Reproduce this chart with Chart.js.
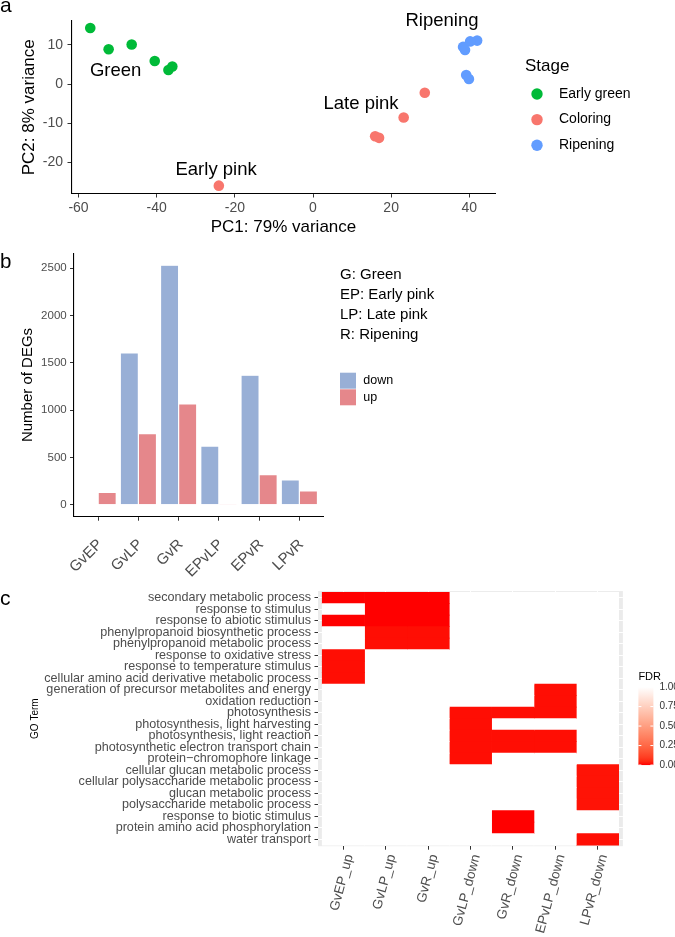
<!DOCTYPE html>
<html>
<head>
<meta charset="utf-8">
<script src="https://cdn.jsdelivr.net/npm/chart.js@4.4.1/dist/chart.umd.min.js"></script>
<style>
  body { margin: 0; background: #fff; width: 675px; height: 937px; position: relative; overflow: hidden; }
  canvas { position: absolute; left: 0; }
</style>
</head>
<body>
<canvas id="pca" width="675" height="240" style="top:0"></canvas>
<canvas id="degs" width="675" height="350" style="top:240px"></canvas>
<canvas id="goterm" width="675" height="357" style="top:580px"></canvas>
<script>
const FONT = '"Liberation Sans", Arial, Helvetica, sans-serif';
Chart.defaults.font.family = FONT;
Chart.defaults.animation = false;

// ---- panel a: PCA ----
const greenPC1 = [-57.0, -52.3, -46.4, -40.5, -37.0, -36.0];
const greenPC2 = [14.3, 8.9, 10.1, 5.9, 3.6, 4.5];
const coloringPC1 = [-24.1, 15.9, 16.9, 23.2, 28.6];
const coloringPC2 = [-25.9, -13.3, -13.7, -8.5, -2.2];
const ripeningPC1 = [42.0, 40.2, 38.4, 38.9, 39.2, 39.9];
const ripeningPC2 = [11.1, 10.9, 9.5, 8.7, 2.3, 1.3];
const pc1Ticks = [-60, -40, -20, 0, 20, 40];
const pc2Ticks = [-20, -10, 0, 10];
const groupLabels = ['Green', 'Ripening', 'Late pink', 'Early pink'];
const groupLabelPC1 = [-50.5, 33.0, 12.3, -24.8];
const groupLabelPC2 = [3.3, 16.1, -5.0, -21.8];

// ---- panel b: DEG counts ----
const comparisons = ['GvEP', 'GvLP', 'GvR', 'EPvLP', 'EPvR', 'LPvR'];
const downDEGs = [0, 1605, 2532, 620, 1369, 263];
const upDEGs = [132, 751, 1067, 12, 318, 147];
const degTicks = [0, 500, 1000, 1500, 2000, 2500];
const stageKey = ['G: Green', 'EP: Early pink', 'LP: Late pink', 'R: Ripening'];

// ---- panel c: GO enrichment ----
const goTerms = [
  'secondary metabolic process', 'response to stimulus', 'response to abiotic stimulus',
  'phenylpropanoid biosynthetic process', 'phenylpropanoid metabolic process',
  'response to oxidative stress', 'response to temperature stimulus',
  'cellular amino acid derivative metabolic process',
  'generation of precursor metabolites and energy', 'oxidation reduction', 'photosynthesis',
  'photosynthesis, light harvesting', 'photosynthesis, light reaction',
  'photosynthetic electron transport chain', 'protein\u2212chromophore linkage',
  'cellular glucan metabolic process', 'cellular polysaccharide metabolic process',
  'glucan metabolic process', 'polysaccharide metabolic process',
  'response to biotic stimulus', 'protein amino acid phosphorylation', 'water transport'
];
const goColumns = ['GvEP_up', 'GvLP_up', 'GvR_up', 'GvLP_down', 'GvR_down', 'EPvLP_down', 'LPvR_down'];
const fdrGvEPup    = [0.00, 1, 0.00, 1, 1, 0.01, 0.01, 0.01, 1, 1, 1, 1, 1, 1, 1, 1, 1, 1, 1, 1, 1, 1];
const fdrGvLPup    = [0.00, 0.00, 0.00, 0.01, 0.01, 1, 1, 1, 1, 1, 1, 1, 1, 1, 1, 1, 1, 1, 1, 1, 1, 1];
const fdrGvRup     = [0.00, 0.00, 0.00, 0.01, 0.01, 1, 1, 1, 1, 1, 1, 1, 1, 1, 1, 1, 1, 1, 1, 1, 1, 1];
const fdrGvLPdown  = [1, 1, 1, 1, 1, 1, 1, 1, 1, 1, 0.01, 0.01, 0.01, 0.01, 0.01, 1, 1, 1, 1, 1, 1, 1];
const fdrGvRdown   = [1, 1, 1, 1, 1, 1, 1, 1, 1, 1, 0.01, 1, 0.01, 0.01, 1, 1, 1, 1, 1, 0.00, 0.00, 1];
const fdrEPvLPdown = [1, 1, 1, 1, 1, 1, 1, 1, 0.01, 0.01, 0.01, 1, 0.01, 0.01, 1, 1, 1, 1, 1, 1, 1, 1];
const fdrLPvRdown  = [1, 1, 1, 1, 1, 1, 1, 1, 1, 1, 1, 1, 1, 1, 1, 0.015, 0.015, 0.015, 0.015, 1, 1, 0.01];
const fdrByColumn = [fdrGvEPup, fdrGvLPup, fdrGvRup, fdrGvLPdown, fdrGvRdown, fdrEPvLPdown, fdrLPvRdown];
const fdrBreaks = [0, 0.25, 0.5, 0.75, 1];

// red -> white, interpolated in Lab like ggplot
function labToRgb(L, a, b) {
  let y = (L + 16) / 116, x = a / 500 + y, z = y - b / 200;
  const f = t => (t ** 3 > 0.008856 ? t ** 3 : (t - 16 / 116) / 7.787);
  x = 0.95047 * f(x); y = f(y); z = 1.08883 * f(z);
  const r = x * 3.2406 - y * 1.5372 - z * 0.4986;
  const g = -x * 0.9689 + y * 1.8758 + z * 0.0415;
  const bl = x * 0.0557 - y * 0.2040 + z * 1.0570;
  const gam = c => Math.round(255 * Math.max(0, Math.min(1, c > 0.0031308 ? 1.055 * c ** (1 / 2.4) - 0.055 : 12.92 * c)));
  return `rgb(${gam(r)},${gam(g)},${gam(bl)})`;
}
function fdrColor(v) {
  return labToRgb(53.24 + (100 - 53.24) * v, 80.09 * (1 - v), 67.2 * (1 - v));
}

const tickGrey = '#4D4D4D';

// ---------- a ----------
const pcaLabels = {
  id: 'pcaLabels',
  afterDraw(chart) {
    const { ctx, scales: { x, y }, chartArea: area } = chart;
    ctx.save();
    ctx.fillStyle = '#000';
    ctx.textAlign = 'center';
    ctx.textBaseline = 'middle';
    ctx.font = '18.5px ' + FONT;
    groupLabels.forEach((t, i) => {
      ctx.fillText(t, x.getPixelForValue(groupLabelPC1[i]), y.getPixelForValue(groupLabelPC2[i]));
    });
    ctx.textAlign = 'left';
    ctx.textBaseline = 'alphabetic';
    ctx.font = '21px ' + FONT;
    ctx.fillText('a', 0, 12);
    // legend
    const lx = area.right + 29.5;
    ctx.textBaseline = 'middle';
    ctx.font = '17px ' + FONT;
    ctx.fillText('Stage', lx, 66);
    ctx.font = '14px ' + FONT;
    chart.data.datasets.forEach((ds, i) => {
      const yy = 94 + i * 25.6;
      ctx.fillStyle = ds.backgroundColor;
      ctx.beginPath();
      ctx.arc(lx + 12, yy, 5.7, 0, Math.PI * 2);
      ctx.fill();
      ctx.fillStyle = '#000';
      ctx.fillText(ds.label, lx + 34, yy);
    });
    ctx.restore();
  }
};

new Chart(document.getElementById('pca'), {
  type: 'scatter',
  data: {
    datasets: [
      { label: 'Early green', data: greenPC1.map((v, i) => ({ x: v, y: greenPC2[i] })), backgroundColor: '#00BA38', borderColor: '#00BA38' },
      { label: 'Coloring', data: coloringPC1.map((v, i) => ({ x: v, y: coloringPC2[i] })), backgroundColor: '#F8766D', borderColor: '#F8766D' },
      { label: 'Ripening', data: ripeningPC1.map((v, i) => ({ x: v, y: ripeningPC2[i] })), backgroundColor: '#619CFF', borderColor: '#619CFF' }
    ]
  },
  options: {
    responsive: false,
    animation: false,
    layout: { padding: { top: 21, right: 179.5, left: 0, bottom: 0 } },
    elements: { point: { radius: 5.3, hoverRadius: 5.3, borderWidth: 0 } },
    plugins: { legend: { display: false }, tooltip: { enabled: false } },
    scales: {
      x: {
        type: 'linear', min: -61.8, max: 46.7,
        afterBuildTicks: s => { s.ticks = pc1Ticks.map(v => ({ value: v })); },
        afterFit: s => { s.height = 46.5; },
        border: { display: true, color: '#000', width: 1.1 },
        grid: { drawOnChartArea: false, drawTicks: true, tickLength: 4, tickColor: '#333' },
        ticks: { color: tickGrey, font: { size: 14 }, padding: 2, maxRotation: 0 },
        title: { display: true, text: 'PC1: 79% variance', color: '#000', font: { size: 17 }, padding: { top: 0, bottom: 2.8 } }
      },
      y: {
        type: 'linear', min: -27.9, max: 16.1,
        afterBuildTicks: s => { s.ticks = pc2Ticks.map(v => ({ value: v })); },
        afterFit: s => { s.width = 71.5; },
        border: { display: true, color: '#000', width: 1.1 },
        grid: { drawOnChartArea: false, drawTicks: true, tickLength: 4, tickColor: '#333' },
        ticks: { color: tickGrey, font: { size: 14 }, padding: 4.5 },
        title: { display: true, text: 'PC2: 8% variance', color: '#000', font: { size: 17 }, padding: { top: 18.8, bottom: 0 } }
      }
    }
  },
  plugins: [pcaLabels]
});

// ---------- b ----------
const degLegend = {
  id: 'degLegend',
  afterDraw(chart) {
    const { ctx } = chart;
    ctx.save();
    ctx.fillStyle = '#000';
    ctx.textAlign = 'left';
    ctx.textBaseline = 'alphabetic';
    ctx.font = '20.5px ' + FONT;
    ctx.fillText('b', 0, 28);
    ctx.textBaseline = 'middle';
    ctx.font = '15px ' + FONT;
    stageKey.forEach((t, i) => ctx.fillText(t, 340, 35 + i * 19.9));
    ctx.font = '12.5px ' + FONT;
    chart.data.datasets.forEach((ds, i) => {
      const top = 132.7 + i * 16.6;
      ctx.fillStyle = ds.backgroundColor;
      ctx.fillRect(340, top, 16, 16);
      ctx.fillStyle = '#000';
      ctx.fillText(ds.label, 363.3, top + 8);
    });
    ctx.restore();
  }
};

new Chart(document.getElementById('degs'), {
  type: 'bar',
  data: {
    datasets: [
      {
        label: 'down', data: comparisons.map((c, i) => ({ x: i, y: downDEGs[i] })),
        backgroundColor: '#98AFD6', borderColor: 'rgba(255,255,255,0.5)', borderWidth: 0.6,
        categoryPercentage: 0.9, barPercentage: 1
      },
      {
        label: 'up', data: comparisons.map((c, i) => ({ x: i, y: upDEGs[i] })),
        backgroundColor: '#E5878B', borderColor: 'rgba(255,255,255,0.5)', borderWidth: 0.6,
        categoryPercentage: 0.9, barPercentage: 1
      }
    ]
  },
  options: {
    responsive: false,
    animation: false,
    layout: { padding: { top: 13.3, right: 351.5, left: 0, bottom: 0 } },
    plugins: { legend: { display: false }, tooltip: { enabled: false } },
    scales: {
      x: {
        type: 'linear', min: -0.6, max: 5.6, offset: false,
        afterBuildTicks: s => { s.ticks = comparisons.map((c, i) => ({ value: i })); },
        afterFit: s => { s.height = 73.3; },
        border: { display: true, color: '#000', width: 1.1 },
        grid: { offset: false, drawOnChartArea: false, drawTicks: true, tickLength: 4, tickColor: '#333' },
        ticks: {
          color: tickGrey, font: { size: 15 }, padding: 15, labelOffset: 2,
          minRotation: 45, maxRotation: 45, autoSkip: false,
          callback: v => comparisons[v]
        }
      },
      y: {
        type: 'linear', min: -126, max: 2658,
        afterBuildTicks: s => { s.ticks = degTicks.map(v => ({ value: v })); },
        afterFit: s => { s.width = 74; },
        border: { display: true, color: '#000', width: 1.1 },
        grid: { drawOnChartArea: false, drawTicks: true, tickLength: 4, tickColor: '#333' },
        ticks: { color: tickGrey, font: { size: 11.5 }, padding: 3.3, callback: v => String(v) },
        title: { display: true, text: 'Number of DEGs', color: '#000', font: { size: 15 }, padding: { top: 19, bottom: 0 } }
      }
    }
  },
  plugins: [degLegend]
});

// ---------- c ----------
const goPanel = {
  id: 'goPanel',
  beforeDraw(chart) {
    const { ctx, chartArea: a } = chart;
    ctx.save();
    ctx.fillStyle = '#EBEBEB';
    ctx.fillRect(a.left, a.top, a.right - a.left, a.bottom - a.top);
    ctx.restore();
  },
  afterDraw(chart) {
    const { ctx, chartArea: a } = chart;
    ctx.save();
    ctx.fillStyle = '#000';
    ctx.textAlign = 'left';
    ctx.textBaseline = 'alphabetic';
    ctx.font = '21px ' + FONT;
    ctx.fillText('c', 0, 25);
    // colour bar
    const bx = a.right + 15.5, top = a.top + 96, h = 78, w = 15;
    const grad = ctx.createLinearGradient(0, top, 0, top + h);
    for (let k = 0; k <= 20; k++) grad.addColorStop(k / 20, fdrColor(1 - k / 20));
    ctx.fillStyle = grad;
    ctx.fillRect(bx, top, w, h);
    ctx.strokeStyle = '#fff';
    ctx.lineWidth = 1;
    ctx.font = '10px ' + FONT;
    ctx.textBaseline = 'middle';
    fdrBreaks.forEach(v => {
      const yy = top + (1 - v) * h;
      ctx.beginPath();
      ctx.moveTo(bx, yy); ctx.lineTo(bx + 3, yy);
      ctx.moveTo(bx + w - 3, yy); ctx.lineTo(bx + w, yy);
      ctx.stroke();
      ctx.fillStyle = '#333';
      ctx.fillText(v.toFixed(2), bx + 21, yy);
    });
    ctx.fillStyle = '#000';
    ctx.font = '11px ' + FONT;
    ctx.fillText('FDR', bx, top - 10.3);
    ctx.restore();
  }
};

new Chart(document.getElementById('goterm'), {
  type: 'bar',
  data: {
    datasets: goColumns.map((col, c) => ({
      label: col,
      data: goTerms.map((t, r) => ({ x: c, y: [r - 0.5, r + 0.5] })),
      backgroundColor: fdrByColumn[c].map(fdrColor),
      borderWidth: 0,
      grouped: false, categoryPercentage: 1, barPercentage: 1
    }))
  },
  options: {
    responsive: false,
    animation: false,
    layout: { padding: { top: 10.9, right: 52.1, left: 0, bottom: 0 } },
    plugins: { legend: { display: false }, tooltip: { enabled: false } },
    scales: {
      x: {
        type: 'linear', min: -0.6, max: 6.6, offset: false,
        afterBuildTicks: s => { s.ticks = goColumns.map((c, i) => ({ value: i })); },
        afterFit: s => { s.height = 90.8; },
        border: { display: false },
        grid: { offset: false, drawOnChartArea: true, color: '#fff', lineWidth: 1, drawTicks: true, tickLength: 3.5, tickColor: '#333' },
        ticks: {
          color: tickGrey, font: { size: 13.5 }, padding: 3, labelOffset: 6,
          minRotation: 75, maxRotation: 75, autoSkip: false,
          callback: v => goColumns[v]
        }
      },
      y: {
        type: 'linear', min: -0.6, max: 21.6, reverse: true,
        afterBuildTicks: s => { s.ticks = goTerms.map((t, i) => ({ value: i })); },
        afterFit: s => { s.width = 318; },
        border: { display: false },
        grid: { drawOnChartArea: true, color: '#fff', lineWidth: 1, drawTicks: true, tickLength: 3.5, tickColor: '#333' },
        ticks: { color: tickGrey, font: { size: 12.6 }, padding: 3.5, autoSkip: false, callback: v => goTerms[v] },
        title: { display: true, text: 'GO Term', color: '#000', font: { size: 10 }, padding: { top: 29, bottom: 0 } }
      }
    }
  },
  plugins: [goPanel]
});
</script>
</body>
</html>
